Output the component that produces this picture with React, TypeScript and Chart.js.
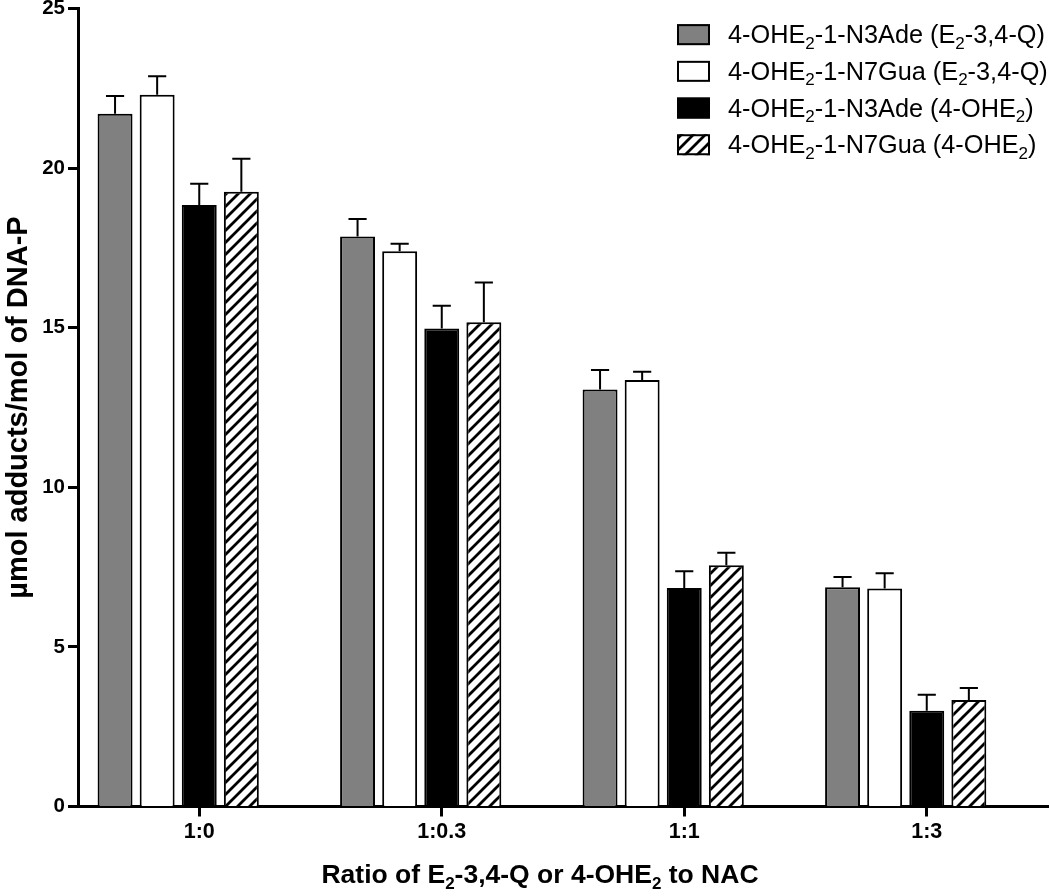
import React, { useEffect, useRef } from 'react';
import { Chart, registerables } from 'chart.js';

Chart.register(...registerables);

const categories = ['1:0', '1:0.3', '1:1', '1:3'];

const seriesLabels = [
  '4-OHE₂-1-N3Ade (E₂-3,4-Q)',
  '4-OHE₂-1-N7Gua (E₂-3,4-Q)',
  '4-OHE₂-1-N3Ade (4-OHE₂)',
  '4-OHE₂-1-N7Gua (4-OHE₂)',
];

const n3AdeQ = [21.71, 17.86, 13.07, 6.87];
const n3AdeQErr = [0.55, 0.55, 0.61, 0.32];
const n7GuaQ = [22.3, 17.4, 13.36, 6.83];
const n7GuaQErr = [0.58, 0.23, 0.26, 0.48];
const n3AdeOH = [18.85, 14.98, 6.85, 3.0];
const n3AdeOHErr = [0.66, 0.71, 0.52, 0.5];
const n7GuaOH = [19.26, 15.17, 7.56, 3.34];
const n7GuaOHErr = [1.04, 1.25, 0.39, 0.37];

const yMin = 0;
const yMax = 25;
const yStep = 5;

const yTitle = 'µmol adducts/mol of DNA-P';
const xTitle = 'Ratio of E₂-3,4-Q or 4-OHE₂ to NAC';

const FONT = '"Liberation Sans", Arial, Helvetica, sans-serif';

function makeHatch(): CanvasPattern | string {
  const c = document.createElement('canvas');
  const s = 12;
  c.width = s;
  c.height = s;
  const g = c.getContext('2d');
  if (!g) return '#ffffff';
  g.fillStyle = '#ffffff';
  g.fillRect(0, 0, s, s);
  g.strokeStyle = '#000000';
  g.lineWidth = 2.8;
  g.lineCap = 'square';
  for (const k of [0, s, 2 * s]) {
    g.beginPath();
    g.moveTo(-2, k + 2);
    g.lineTo(k + 2, -2);
    g.stroke();
  }
  const p = g.createPattern(c, 'repeat');
  return p || '#ffffff';
}

function drawRich(
  ctx: CanvasRenderingContext2D,
  text: string,
  x: number,
  baseline: number,
  size: number,
  weight: string,
  align: 'left' | 'center'
) {
  const parts = text.split('₂');
  const mainFont = `${weight} ${size}px ${FONT}`;
  const subSize = Math.round(size * 0.66);
  const subFont = `${weight} ${subSize}px ${FONT}`;
  let total = 0;
  parts.forEach((p, i) => {
    ctx.font = mainFont;
    total += ctx.measureText(p).width;
    if (i < parts.length - 1) {
      ctx.font = subFont;
      total += ctx.measureText('2').width;
    }
  });
  let cx = align === 'center' ? x - total / 2 : x;
  ctx.textAlign = 'left';
  ctx.textBaseline = 'alphabetic';
  ctx.fillStyle = '#000000';
  parts.forEach((p, i) => {
    ctx.font = mainFont;
    ctx.fillText(p, cx, baseline);
    cx += ctx.measureText(p).width;
    if (i < parts.length - 1) {
      ctx.font = subFont;
      ctx.fillText('2', cx, baseline + size * 0.22);
      cx += ctx.measureText('2').width;
    }
  });
}

export default function App() {
  const canvasRef = useRef<HTMLCanvasElement | null>(null);

  useEffect(() => {
    document.body.style.margin = '0';
    document.body.style.overflow = 'hidden';
    const canvas = canvasRef.current;
    if (!canvas) return;

    const hatch = makeHatch();
    const values = [n3AdeQ, n7GuaQ, n3AdeOH, n7GuaOH];
    const errors = [n3AdeQErr, n7GuaQErr, n3AdeOHErr, n7GuaOHErr];
    const fills: (string | CanvasPattern)[] = ['#808080', '#ffffff', '#000000', hatch];

    const errorBars = {
      id: 'errorBars',
      afterDatasetsDraw(chart: any) {
        const ctx: CanvasRenderingContext2D = chart.ctx;
        const y = chart.scales.y;
        ctx.save();
        ctx.strokeStyle = '#000000';
        ctx.lineWidth = 2;
        errors.forEach((errs, di) => {
          const meta = chart.getDatasetMeta(di);
          meta.data.forEach((bar: any, i: number) => {
            const v = values[di][i];
            const top = y.getPixelForValue(v + errs[i]);
            const base = y.getPixelForValue(v);
            const half = bar.width * 0.26;
            ctx.beginPath();
            ctx.moveTo(bar.x, base);
            ctx.lineTo(bar.x, top);
            ctx.moveTo(bar.x - half, top);
            ctx.lineTo(bar.x + half, top);
            ctx.stroke();
          });
        });
        ctx.restore();
      },
    };

    const legendAndTitle = {
      id: 'legendAndTitle',
      afterDraw(chart: any) {
        const ctx: CanvasRenderingContext2D = chart.ctx;
        const area = chart.chartArea;
        ctx.save();
        const boxLeft = area.right - 371;
        const boxW = 33;
        const boxH = 21;
        const rowGap = 36.7;
        const firstTop = area.top + 15.5;
        seriesLabels.forEach((label, i) => {
          const top = firstTop + i * rowGap;
          ctx.fillStyle = fills[i] as any;
          ctx.fillRect(boxLeft, top, boxW, boxH);
          ctx.strokeStyle = '#000000';
          ctx.lineWidth = 2;
          ctx.strokeRect(boxLeft + 1, top + 1, boxW - 2, boxH - 2);
          drawRich(ctx, label, boxLeft + 51, top + 19, 25.3, 'normal', 'left');
        });
        drawRich(ctx, xTitle, 540, chart.height - 13, 26.5, 'bold', 'center');
        ctx.restore();
      },
    };

    const datasets: any[] = values.map((data, i) => ({
      label: seriesLabels[i],
      data,
      backgroundColor: fills[i],
      borderColor: '#000000',
      borderWidth: 2,
      borderSkipped: 'start',
    }));
    datasets.push({
      label: '',
      data: categories.map(() => null),
      backgroundColor: 'rgba(0,0,0,0)',
      borderWidth: 0,
    });

    const chart = new Chart(canvas, {
      type: 'bar',
      data: { labels: categories, datasets },
      options: {
        animation: false,
        responsive: true,
        maintainAspectRatio: false,
        categoryPercentage: 0.868,
        barPercentage: 0.83,
        layout: { padding: { top: 0, right: 2, bottom: 0, left: 0 } },
        plugins: {
          legend: { display: false },
          tooltip: { enabled: false },
          title: { display: false },
        },
        scales: {
          x: {
            type: 'category',
            offset: true,
            grid: {
              display: true,
              offset: false,
              drawOnChartArea: false,
              drawTicks: true,
              tickLength: 10,
              tickWidth: 3,
              tickColor: '#000000',
            },
            border: { display: true, color: '#000000', width: 3 },
            ticks: {
              color: '#000000',
              padding: 3,
              font: { family: FONT, size: 21.5, weight: 'bold' },
            },
            afterFit(scale: any) {
              scale.height = 89.5;
            },
          },
          y: {
            min: yMin,
            max: yMax,
            grid: {
              display: true,
              drawOnChartArea: false,
              drawTicks: true,
              tickLength: 10,
              tickWidth: 3,
              tickColor: '#000000',
            },
            border: { display: true, color: '#000000', width: 3 },
            ticks: {
              stepSize: yStep,
              color: '#000000',
              padding: 3,
              font: { family: FONT, size: 20.5, weight: 'bold', lineHeight: 0.55 },
            },
            title: {
              display: true,
              text: yTitle,
              color: '#000000',
              padding: { top: 4, bottom: 0 },
              font: { family: FONT, size: 29, weight: 'bold', lineHeight: 1.0 },
            },
            afterFit(scale: any) {
              scale.width = 78;
            },
          },
        },
      },
      plugins: [errorBars, legendAndTitle],
    });

    return () => {
      chart.destroy();
    };
  }, []);

  return (
    <div style={{ position: 'relative', width: 1050, height: 896 }}>
      <canvas ref={canvasRef} style={{ display: 'block' }} />
    </div>
  );
}
